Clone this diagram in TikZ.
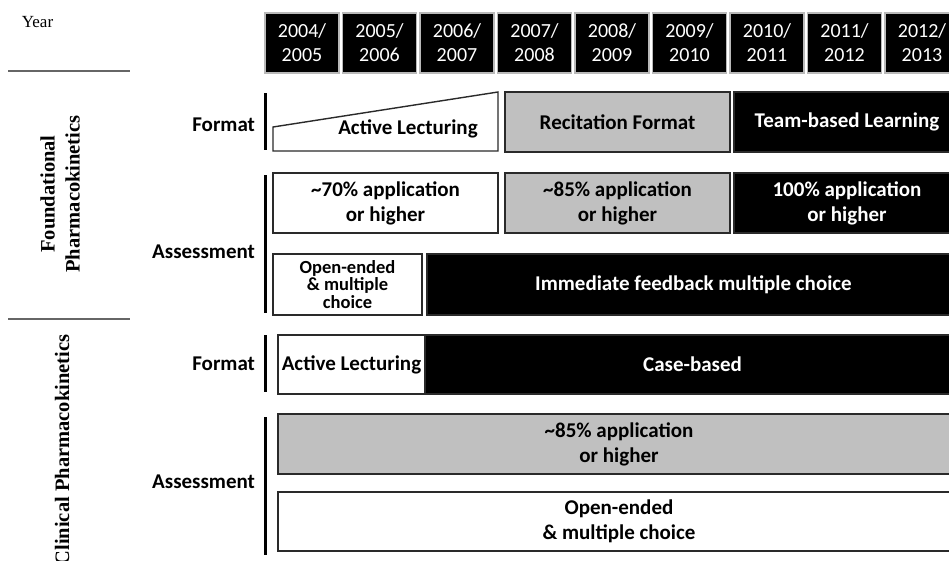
\documentclass[tikz,border=0pt]{standalone}
\usepackage{fontspec}
\setmainfont{Carlito}
\newfontfamily\seriffont{Liberation Serif}
\definecolor{boxgray}{HTML}{C0C0C0}
\definecolor{edgegray}{HTML}{2A2A2A}
\begin{document}
\begin{tikzpicture}[x=1pt,y=-1pt,
  every node/.style={inner sep=0pt,outer sep=0pt},
  yearbox/.style={fill=black,draw=gray!55,line width=1.5pt,minimum width=74pt,minimum height=60pt,
    text=white,align=center,font=\fontsize{20}{24}\selectfont},
  cell/.style={draw=edgegray,line width=1.4pt,align=center,font=\bfseries\fontsize{21}{25}\selectfont},
  wcell/.style={cell,fill=white},
  gcell/.style={cell,fill=boxgray},
  bcell/.style={cell,fill=black,text=white},
  rowlabel/.style={anchor=east,font=\bfseries\fontsize{21}{24}\selectfont},
  sidebar/.style={line width=3pt},
  rule/.style={draw=gray!80!black,line width=1.2pt},
  sectitle/.style={rotate=90,align=center,font=\seriffont\bfseries\fontsize{20.5}{25}\selectfont}
]
\useasboundingbox[fill=white] (0,0) rectangle (949,560);

% Year header
\node[font=\seriffont\fontsize{17}{18}\selectfont] (year) at (37.5,22) {Year};
\coordinate (r1a) at (8,71); \coordinate (r1b) at (130,71);
\draw[rule] (r1a) -- (r1b);
\coordinate (r2a) at (8,319); \coordinate (r2b) at (130,319);
\draw[rule] (r2a) -- (r2b);

\foreach \i/\a/\b in {0/2004/2005,1/2005/2006,2/2006/2007,3/2007/2008,4/2008/2009,5/2009/2010,6/2010/2011,7/2011/2012,8/2012/2013}{
  \node[yearbox] (y\i) at (302+77.5*\i,43) {\a/\\\b};
}

% Section titles
\node[sectitle] (fpk) at (60,194) {Foundational\\Pharmacokinetics};
\node[sectitle] (cpk) at (62,450) {Clinical Pharmacokinetics};

% Row labels and bars
\node[rowlabel] (fformat) at (255,125) {Format};
\node[rowlabel] (fassess) at (255,252) {Assessment};
\node[rowlabel] (cformat) at (255,364) {Format};
\node[rowlabel] (cassess) at (255,482) {Assessment};
\coordinate (b1t) at (265,93);  \coordinate (b1b) at (265,150);
\coordinate (b2t) at (265,175); \coordinate (b2b) at (265,313);
\coordinate (b3t) at (265,335); \coordinate (b3b) at (265,392);
\coordinate (b4t) at (265,417); \coordinate (b4b) at (265,555);
\draw[sidebar] (b1t) -- (b1b);
\draw[sidebar] (b2t) -- (b2b);
\draw[sidebar] (b3t) -- (b3b);
\draw[sidebar] (b4t) -- (b4b);

% Foundational format
\draw[draw=edgegray,line width=1.4pt,fill=white] (273,151) -- (498,151) -- (498,92) -- (273,127) -- cycle;
\node[font=\bfseries\fontsize{21}{25}\selectfont] (al1) at (408,129) {Active Lecturing};
\node[gcell,minimum width=225pt,minimum height=60pt] (rec) at (617.5,122) {Recitation Format};
\node[bcell,minimum width=226pt,minimum height=60pt] (tbl) at (847,122) {Team-based Learning};

% Foundational assessment
\node[wcell,minimum width=225pt,minimum height=60pt] (a70) at (385.5,203) {\textasciitilde70\% application\\or higher};
\node[gcell,minimum width=225pt,minimum height=60pt] (a85) at (617.5,203) {\textasciitilde85\% application\\or higher};
\node[bcell,minimum width=226pt,minimum height=60pt] (a100) at (847,203) {100\% application\\or higher};
\node[wcell,minimum width=149pt,minimum height=61pt,font=\bfseries\fontsize{18.5}{17.5}\selectfont] (oe1) at (347.5,284.5) {Open-ended\\\& multiple\\choice};
\node[bcell,minimum width=533pt,minimum height=61pt] (ifb) at (693.5,284.5) {Immediate feedback multiple choice};

% Clinical format
\node[wcell,minimum width=147pt,minimum height=59pt] (al2) at (351.5,364.5) {Active Lecturing};
\node[bcell,minimum width=535pt,minimum height=59pt] (cb) at (692.5,364.5) {Case-based};

% Clinical assessment
\node[gcell,minimum width=682pt,minimum height=60pt] (c85) at (619,444) {\textasciitilde85\% application\\or higher};
\node[wcell,minimum width=682pt,minimum height=59pt] (coe) at (619,521.5) {Open-ended\\\& multiple choice};
\end{tikzpicture}
\end{document}
